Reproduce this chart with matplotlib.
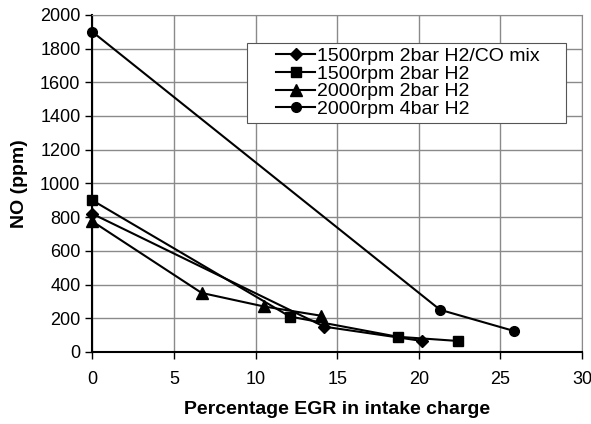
import matplotlib
matplotlib.use('Agg')
import matplotlib.pyplot as plt
from matplotlib.patches import Rectangle

plt.rcParams['font.family'] = ['Liberation Sans', 'DejaVu Sans']

# NO emissions vs EGR
mix_egr = [0, 14.2, 20.2]
mix_no = [820, 150, 65]

h2_1500_egr = [0, 12.1, 18.7, 22.4]
h2_1500_no = [900, 210, 90, 65]

h2_2000_2bar_egr = [0, 6.7, 10.5, 14.0]
h2_2000_2bar_no = [775, 350, 270, 215]

h2_2000_4bar_egr = [0, 21.3, 25.8]
h2_2000_4bar_no = [1900, 250, 125]

labels = ['1500rpm 2bar H2/CO mix', '1500rpm 2bar H2',
          '2000rpm 2bar H2', '2000rpm 4bar H2']

fig = plt.figure(figsize=(5.91, 4.24), dpi=100)
ax = fig.add_axes([0.156, 0.170, 0.829, 0.795])

ax.plot(mix_egr, mix_no, 'k-', marker='D', markersize=6, lw=1.5, label=labels[0], clip_on=False)
ax.plot(h2_1500_egr, h2_1500_no, 'k-', marker='s', markersize=7, lw=1.5, label=labels[1], clip_on=False)
ax.plot(h2_2000_2bar_egr, h2_2000_2bar_no, 'k-', marker='^', markersize=8, lw=1.5, label=labels[2], clip_on=False)
ax.plot(h2_2000_4bar_egr, h2_2000_4bar_no, 'k-', marker='o', markersize=7, lw=1.5, label=labels[3], clip_on=False)

ax.set_xlim(0, 30)
ax.set_ylim(0, 2000)
ax.set_xticks(range(0, 31, 5))
ax.set_yticks(range(0, 2001, 200))
ax.grid(True, color='#8a8a8a', lw=1)
ax.set_axisbelow(True)
ax.tick_params(labelsize=13, length=5, width=1, direction='out')
ax.tick_params(axis='x', pad=9)
ax.tick_params(axis='y', pad=3.5)
for s in ['top', 'right']:
    ax.spines[s].set_color('#8a8a8a')
for s in ['left', 'bottom']:
    ax.spines[s].set_linewidth(1.5)

ax.set_xlabel('Percentage EGR in intake charge', fontsize=14, fontweight='bold')
ax.set_ylabel('NO (ppm)', fontsize=14, fontweight='bold')
ax.xaxis.set_label_coords(0.5, -0.145)
ax.yaxis.set_label_coords(-0.131, 0.5)

# legend box drawn separately so the entries can sit indented like the original
ax.add_patch(Rectangle((0.316, 0.680), 0.651, 0.237, transform=ax.transAxes,
                       facecolor='white', edgecolor='#555555', lw=0.8, zorder=4))
leg = ax.legend(loc='upper left', bbox_to_anchor=(0.3755, 0.903), fontsize=14,
                frameon=False, handlelength=2.0, handletextpad=0.1, borderpad=0,
                labelspacing=0, borderaxespad=0)
leg.set_zorder(5)

fig.savefig('out.png', dpi=100)
